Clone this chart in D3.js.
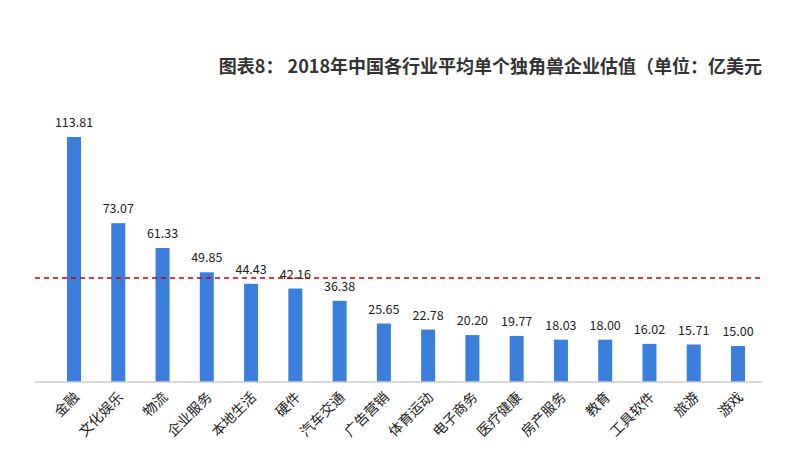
<!DOCTYPE html><html><head><meta charset="utf-8"><script src="https://cdn.jsdelivr.net/npm/d3@7"></script>
<style>body{margin:0;background:#fff}</style></head><body><svg width="800" height="460"></svg>
<script>
const categories=["金融","文化娱乐","物流","企业服务","本地生活","硬件","汽车交通","广告营销","体育运动","电子商务","医疗健康","房产服务","教育","工具软件","旅游","游戏"];
const values=[113.81,73.07,61.33,49.85,44.43,42.16,36.38,25.65,22.78,20.20,19.77,18.03,18.00,16.02,15.71,15.00];
const refValue=47.2;
const svg=d3.select("svg");
const font="'Noto Sans CJK SC','Microsoft YaHei',sans-serif";
const x=d3.scalePoint().domain(categories).range([74,738]);
const y=d3.scaleLinear().domain([-2,113.81]).range([382,137]);
svg.append("text").attr("x",762).attr("y",73).attr("text-anchor","end").attr("font-family",font).attr("font-weight","bold").attr("font-size",18).attr("fill","#333").text("图表8： 2018年中国各行业平均单个独角兽企业估值（单位：亿美元");
svg.selectAll("rect").data(values).join("rect").attr("x",(d,i)=>x(categories[i])-7).attr("width",14).attr("y",d=>y(d)).attr("height",d=>y(-2)-y(d)).attr("fill","#3a7fdc");
svg.selectAll(".v").data(values).join("text").attr("x",(d,i)=>x(categories[i])).attr("y",d=>y(d)-10).attr("text-anchor","middle").attr("font-family",font).attr("font-size",12.5).attr("fill","#222").text(d=>d.toFixed(2));
svg.append("line").attr("x1",35).attr("x2",762).attr("y1",382).attr("y2",382).attr("stroke","#ccc").attr("stroke-width",1.5);
svg.append("line").attr("x1",35).attr("x2",762).attr("y1",y(refValue)).attr("y2",y(refValue)).attr("stroke","#c00000").attr("stroke-width",1.5).attr("stroke-dasharray","5,4");
svg.selectAll(".c").data(categories).join("text").attr("transform",d=>`translate(${x(d)+6},${398}) rotate(-45)`).attr("text-anchor","end").attr("font-family",font).attr("font-size",14).attr("fill","#222").text(d=>d);
</script></body></html>
